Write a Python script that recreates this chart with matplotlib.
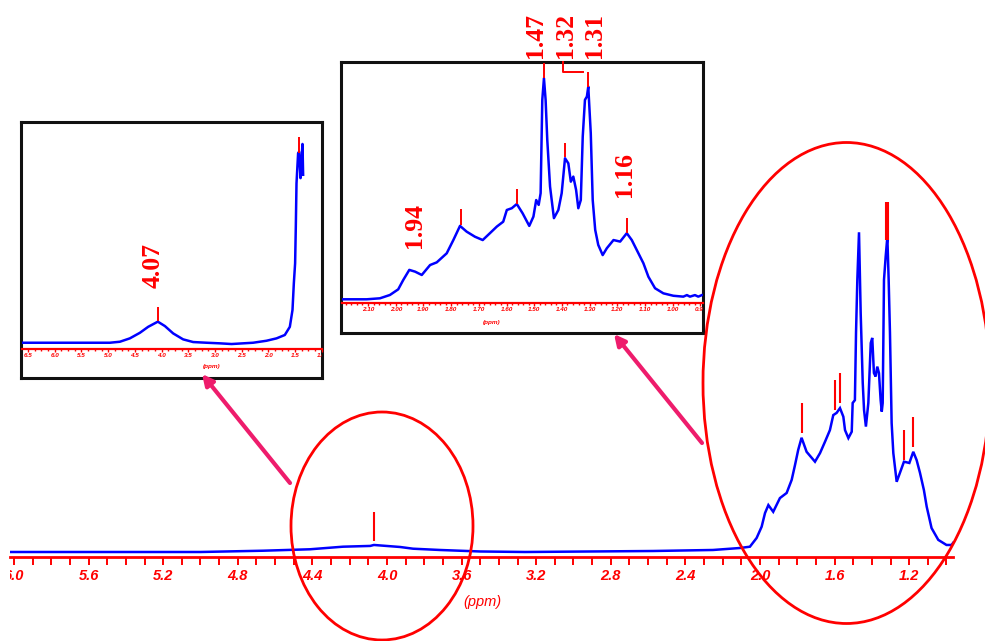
import matplotlib
matplotlib.use('Agg')
import matplotlib.pyplot as plt
from matplotlib.patches import Ellipse, Rectangle
from matplotlib.ticker import MultipleLocator, FormatStrFormatter

W, H = 985, 641

# ---------------- main spectrum ----------------
main_ppm = [6.02, 5.00, 4.665, 4.413, 4.236, 4.09, 4.07, 3.93, 3.86, 3.716,
            3.50, 3.26, 2.574, 2.252, 2.107, 2.054, 2.018, 1.991, 1.973, 1.955,
            1.929, 1.893, 1.857, 1.830, 1.812, 1.795, 1.777, 1.750, 1.705, 1.678,
            1.651, 1.625, 1.607, 1.589, 1.571, 1.553, 1.544, 1.526, 1.508, 1.503,
            1.491, 1.485, 1.478, 1.469, 1.460, 1.449, 1.442, 1.432, 1.419, 1.406,
            1.398, 1.389, 1.380, 1.371, 1.362, 1.353, 1.347, 1.342, 1.335, 1.326,
            1.317, 1.310, 1.303, 1.294, 1.285, 1.267, 1.244, 1.228, 1.199, 1.178,
            1.160, 1.142, 1.121, 1.106, 1.080, 1.044, 1.000, 0.973, 0.960]
main_int = [0, 0, 0.4, 0.85, 1.66, 1.9, 2.2, 1.57, 1.03, 0.63,
            0.16, 0, 0.31, 0.63, 1.25, 1.66, 4.39, 7.93, 12.2, 14.7,
            12.6, 16.9, 18.5, 22.6, 27.3, 32.0, 35.8, 31.4, 28.3, 31.0,
            34.6, 38.2, 42.9, 43.6, 45.1, 42.4, 38.2, 35.7, 37.7, 46.7,
            47.6, 68.7, 85.3, 100.2, 74.9, 53.0, 44.5, 39.3, 46.7, 65.5,
            67.1, 56.1, 55.0, 58.1, 56.1, 47.6, 44.0, 46.7, 85.3, 92.6,
            98.8, 85.3, 68.7, 40.4, 31.0, 22.0, 25.7, 28.3, 27.9, 31.4,
            28.8, 24.8, 19.4, 14.2, 7.5, 3.8, 2.2, 2.2, 3.2]
main_peak_ppm = [4.07, 1.777, 1.598, 1.571, 1.324, 1.314, 1.228, 1.178]
main_peak_lo = [3.4, 37.3, 44.5, 46.7, 97.8, 97.8, 28.8, 32.9]
main_peak_hi = [12.5, 46.7, 53.9, 56.1, 109.7, 109.7, 38.2, 42.3]
main_ticks_major = 0.4
main_ticks_minor = 0.1

# ---------------- left inset (full range) ----------------
ins1_ppm = [6.62, 4.968, 4.781, 4.594, 4.406, 4.251, 4.07, 3.938, 3.783, 3.596,
            3.408, 3.157, 2.908, 2.689, 2.285, 2.034, 1.846, 1.691, 1.597, 1.547,
            1.522, 1.498, 1.485, 1.472, 1.442, 1.423, 1.397, 1.378, 1.360, 1.348]
ins1_int = [0, 0, 0.5, 2.2, 5.0, 8.0, 10.6, 8.4, 4.7, 1.7,
            0.35, 0, -0.3, -0.65, 0, 1.0, 2.2, 3.9, 8.0, 16.5,
            29.9, 40.0, 58.4, 80.2, 95.3, 96.1, 82.8, 92.0, 100, 84.5]
ins1_peak_ppm = [4.07, 1.423]
ins1_peak_lo = [10.9, 95.5]
ins1_peak_hi = [18.0, 103.7]
ins1_labels = ["4.07"]
ins1_label_ppm = [4.157]
ins1_label_h = [27.5]

# ---------------- right inset (aliphatic zoom) ----------------
ins2_ppm = [2.195, 2.105, 2.057, 2.021, 1.991, 1.973, 1.951, 1.930, 1.906, 1.876,
            1.852, 1.816, 1.792, 1.768, 1.744, 1.714, 1.686, 1.660, 1.635, 1.612,
            1.599, 1.581, 1.563, 1.542, 1.518, 1.503, 1.493, 1.484, 1.477, 1.471,
            1.465, 1.459, 1.453, 1.443, 1.429, 1.413, 1.401, 1.389, 1.377, 1.368,
            1.359, 1.349, 1.341, 1.332, 1.325, 1.317, 1.310, 1.305, 1.296, 1.289,
            1.280, 1.269, 1.253, 1.238, 1.214, 1.190, 1.166, 1.148, 1.124, 1.106,
            1.088, 1.064, 1.034, 0.998, 0.962, 0.949, 0.938, 0.920, 0.908, 0.895]
ins2_int = [0, 0, 0.45, 1.95, 4.5, 8.7, 13.3, 12.5, 11.0, 15.5,
            16.7, 20.8, 26.8, 33.2, 30.6, 28.3, 26.8, 29.9, 32.9, 35.1,
            40.4, 41.2, 43.1, 38.9, 33.2, 37.4, 44.9, 42.7, 48.0, 90.2,
            100, 90.2, 72.1, 51.0, 36.7, 40.4, 48.0, 63.8, 61.5, 53.2,
            55.5, 49.5, 41.2, 44.9, 73.6, 90.2, 91.7, 96.2, 75.1, 44.9,
            31.4, 24.6, 20.0, 23.1, 26.8, 26.1, 29.9, 26.8, 20.8, 16.3,
            10.2, 5.0, 2.7, 1.6, 1.2, 1.9, 1.2, 1.9, 1.2, 1.9]
ins2_peak_ppm = [1.764, 1.563, 1.465, 1.389, 1.307, 1.166]
ins2_peak_lo = [33.6, 43.1, 100.0, 64.4, 95.9, 30.0]
ins2_peak_hi = [40.9, 49.9, 106.7, 70.7, 102.7, 36.8]
ins2_labels = ["1.94", "1.47", "1.32", "1.31", "1.16"]
ins2_label_ppm = [1.934, 1.497, 1.389, 1.281, 1.175]
ins2_label_h = [23.1, 109.0, 109.0, 109.0, 46.4]
ins2_bracket_ppm = [1.397, 1.397, 1.323]
ins2_bracket_h = [107.2, 102.8, 102.8]

assert len(main_ppm) == len(main_int)
assert len(ins1_ppm) == len(ins1_int)
assert len(ins2_ppm) == len(ins2_int)

RED = '#FF0000'
BLUE = '#0000FF'
PINK = '#EE1C6C'
LABEL_SIZE = 18.5


def rect(l, t, r, b):
    return [l / W, 1 - b / H, (r - l) / W, (b - t) / H]


fig = plt.figure(figsize=(W / 100, H / 100), dpi=100)
fig.patch.set_facecolor('white')

# ---------------- main axes ----------------
ax = fig.add_axes(rect(10, 0, 953, 557))
ax.plot(main_ppm, main_int, color=BLUE, lw=1.8, solid_joinstyle='miter')
ax.vlines(main_peak_ppm, main_peak_lo, main_peak_hi, color=RED, lw=1.5)
ax.set_xlim(6.0214, 0.965)
ax.set_ylim(-1.57, 173.0)
for s in ['top', 'left', 'right']:
    ax.spines[s].set_visible(False)
ax.spines['bottom'].set_color(RED)
ax.spines['bottom'].set_linewidth(2.0)
ax.set_yticks([])
ax.xaxis.set_major_locator(MultipleLocator(main_ticks_major))
ax.xaxis.set_minor_locator(MultipleLocator(main_ticks_minor))
ax.xaxis.set_major_formatter(FormatStrFormatter('%.1f'))
ax.tick_params(axis='x', which='both', direction='out', length=6, width=1.4,
               color=RED, labelcolor=RED, pad=3.0)
for lab in ax.get_xticklabels():
    lab.set_fontfamily('Liberation Sans')
    lab.set_fontstyle('italic')
    lab.set_fontweight('bold')
    lab.set_fontsize(10.5)
ax.set_xlabel('(ppm)', color=RED, fontstyle='italic', fontsize=10.5,
              family='Liberation Sans', va='center')
ax.xaxis.set_label_coords((482 - 10) / 943, (557 - 602) / 557)
ax.patch.set_alpha(0)


def make_inset(box_px, inner_px, ppm, inten, ylim, xlim, major, minor, fmt,
               lsize, peaks, xlabel_xy):
    bx = fig.add_axes(rect(*box_px))
    bx.set_xticks([]); bx.set_yticks([])
    for s in bx.spines.values():
        s.set_color('#111111'); s.set_linewidth(2.2)
    bx.set_zorder(5)
    ia = fig.add_axes(rect(*inner_px))
    ia.set_zorder(6)
    ia.patch.set_alpha(0)
    ia.plot(ppm, inten, color=BLUE, lw=1.8)
    ia.vlines(peaks[0], peaks[1], peaks[2], color=RED, lw=1.4)
    ia.set_xlim(*xlim)
    ia.set_ylim(*ylim)
    for s in ['top', 'left', 'right']:
        ia.spines[s].set_visible(False)
    ia.spines['bottom'].set_color(RED)
    ia.spines['bottom'].set_linewidth(1.6)
    ia.set_yticks([])
    ia.xaxis.set_major_locator(MultipleLocator(major))
    ia.xaxis.set_minor_locator(MultipleLocator(minor))
    ia.xaxis.set_major_formatter(FormatStrFormatter(fmt))
    ia.tick_params(axis='x', which='major', direction='out', length=2.2, width=1.0,
                   color=RED, labelcolor=RED, pad=1.2, labelsize=lsize)
    ia.tick_params(axis='x', which='minor', direction='out', length=1.6, width=1.0,
                   color=RED)
    for lab in ia.get_xticklabels():
        lab.set_fontstyle('italic')
        lab.set_fontweight('bold')
        lab.set_fontfamily('Liberation Sans')
        lab.set_clip_on(True)
        lab.set_clip_box(bx.bbox)
    ia.set_xlabel('(ppm)', color=RED, fontstyle='italic', fontweight='bold',
                  fontsize=lsize, family='Liberation Sans', va='center')
    ia.xaxis.set_label_coords(*xlabel_xy)
    return ia


ia1 = make_inset((21, 122, 322, 378), (21.7, 122.7, 321.7, 348.7),
                 ins1_ppm, ins1_int, (-3.0, 110.7), (6.62, 1.0), 0.5, 0.125, '%.1f', 4.6,
                 (ins1_peak_ppm, ins1_peak_lo, ins1_peak_hi),
                 ((211.7 - 21.7) / 300, (348.7 - 366.7) / 226))
for t, x, y in zip(ins1_labels, ins1_label_ppm, ins1_label_h):
    ia1.text(x, y, t, rotation=90, ha='center', va='bottom', color=RED,
             fontsize=LABEL_SIZE, fontweight='bold', family='Liberation Serif')

ia2 = make_inset((341, 62, 703, 333), (341.7, 62.3, 702.7, 302.7),
                 ins2_ppm, ins2_int, (-1.54, 107.2), (2.195, 0.892), 0.1, 0.02, '%.2f', 4.6,
                 (ins2_peak_ppm, ins2_peak_lo, ins2_peak_hi),
                 ((491.7 - 341.7) / 361, (302.7 - 322.7) / 240.4))
ia2.plot(ins2_bracket_ppm, ins2_bracket_h, color=RED, lw=1.4, clip_on=False)
for t, x, y in zip(ins2_labels, ins2_label_ppm, ins2_label_h):
    ia2.text(x, y, t, rotation=90, ha='center', va='bottom', color=RED,
             fontsize=LABEL_SIZE, fontweight='bold', family='Liberation Serif',
             clip_on=False)

# ---------------- overlay: ellipses and arrows ----------------
ov = fig.add_axes([0, 0, 1, 1])
ov.set_zorder(10)
ov.patch.set_alpha(0)
ov.set_xlim(0, W)
ov.set_ylim(H, 0)
ov.axis('off')
ov.add_patch(Ellipse((382, 526), 182, 228, fill=False, ec=RED, lw=2.0))
ov.add_patch(Ellipse((846.5, 383), 287, 481, fill=False, ec=RED, lw=2.0))
ov.annotate('', xy=(202, 374), xytext=(290, 483),
            arrowprops=dict(arrowstyle='-|>', color=PINK, lw=3.0, mutation_scale=16,
                            shrinkA=0, shrinkB=0))
ov.annotate('', xy=(614, 334), xytext=(702, 443),
            arrowprops=dict(arrowstyle='-|>', color=PINK, lw=3.0, mutation_scale=16,
                            shrinkA=0, shrinkB=0))
ov.add_patch(Rectangle((0, 562), 10, 30, fc='white', ec='none'))

fig.savefig('out.png', dpi=100)
